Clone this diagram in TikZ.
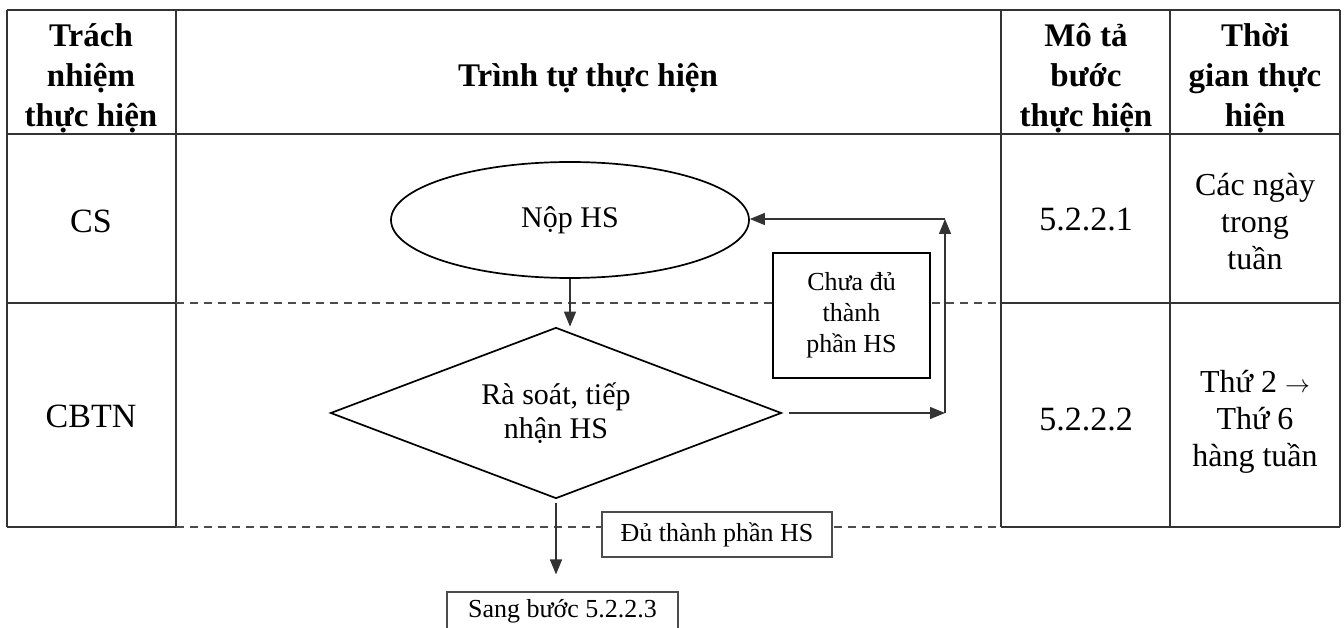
\documentclass[tikz,border=0pt]{standalone}
\usepackage{fontspec}
\setmainfont{Liberation Serif}
\usetikzlibrary{shapes.geometric,arrows.meta}
\begin{document}
\begin{tikzpicture}[x=1pt,y=-1pt,
  tline/.style={draw=black!80, line width=1.3pt},
  dline/.style={draw=black!70, line width=1.1pt, dash pattern=on 8pt off 6pt},
  conn/.style={draw=black!80, line width=1.4pt, -{Triangle[length=15pt,width=12pt]}},
  hd/.style={font=\fontsize{33}{40}\selectfont\bfseries, align=center, inner sep=0pt},
  bd/.style={font=\fontsize{32}{37}\selectfont, align=center, inner sep=0pt},
  bdl/.style={font=\fontsize{34}{37}\selectfont, align=center, inner sep=0pt},
  fl/.style={font=\fontsize{26}{31}\selectfont, align=center},
  flbig/.style={font=\fontsize{30}{34}\selectfont, align=center},
  flshape/.style={draw=black, line width=1.7pt, inner sep=0pt, flbig},
  smallbox/.style={draw=black!70, line width=1.1pt, fill=white, fl}
]
\useasboundingbox (0,0) rectangle (1344,628);
\fill[white] (0,0) rectangle (1344,628);

% table frame
\draw[tline] (7,10) -- (1340,10);
\draw[tline] (7,134) -- (1340,134);
\draw[tline] (7,10) -- (7,527);
\draw[tline] (176,10) -- (176,527);
\draw[tline] (1001,10) -- (1001,527);
\draw[tline] (1170,10) -- (1170,527);
\draw[tline] (1340,10) -- (1340,527);
\draw[tline] (7,303) -- (176,303);
\draw[tline] (1001,303) -- (1340,303);
\draw[tline] (7,527) -- (176,527);
\draw[tline] (1001,527) -- (1340,527);
\draw[dline] (176,303) -- (1001,303);
\draw[dline] (176,527) -- (1001,527);

% header
\node[hd] (h1) at (91,78) {Trách\\nhiệm\\thực hiện};
\node[hd] (h2) at (588,78) {Trình tự thực hiện};
\node[hd] (h3) at (1086,78) {Mô tả\\bước\\thực hiện};
\node[hd] (h4) at (1255,78) {Thời\\gian thực\\hiện};

% body cells
\node[bdl] (r1) at (91,221) {CS};
\node[bdl] (r2) at (91,416) {CBTN};
\node[bdl] (m1) at (1086,219) {5.2.2.1};
\node[bdl] (m2) at (1086,419) {5.2.2.2};
\node[bd] (t1) at (1255,222) {Các ngày\\trong\\tuần};
\node[bd] (t2) at (1255,422) {Thứ 2 $\rightarrow$\\Thứ 6\\hàng tuần};

% flowchart
\node[flshape, ellipse, minimum width=358pt, minimum height=116pt] (nop) at (570,220) {Nộp HS};
\node[flshape, diamond, shape aspect=2.64, minimum width=451pt, minimum height=171pt] (ras) at (556,413) {Rà soát, tiếp\\nhận HS};
\node[draw=black, line width=1.5pt, fill=white, fl, minimum width=157pt, minimum height=125pt] (chua) at (851.5,315.5) {Chưa đủ\\thành\\phần HS};
\node[smallbox, minimum width=230pt, minimum height=45pt] (du) at (717,534.5) {Đủ thành phần HS};
\node[smallbox, minimum width=231pt, minimum height=38pt] (sang) at (562.5,611) {Sang bước 5.2.2.3};

\coordinate (c1) at (945,413);
\coordinate (c2) at (945,219);
\draw[conn] (nop.south) -- (nop.south |- ras.north);
\draw[conn] ([xshift=7pt]ras.east) -- (c1);
\draw[conn] (c1) -- (c2);
\draw[conn] (c2) -- (nop.east |- c2);
\draw[conn, shorten >=17pt] ([yshift=-4pt]ras.south) -- (ras.south |- sang.north);
\end{tikzpicture}
\end{document}
